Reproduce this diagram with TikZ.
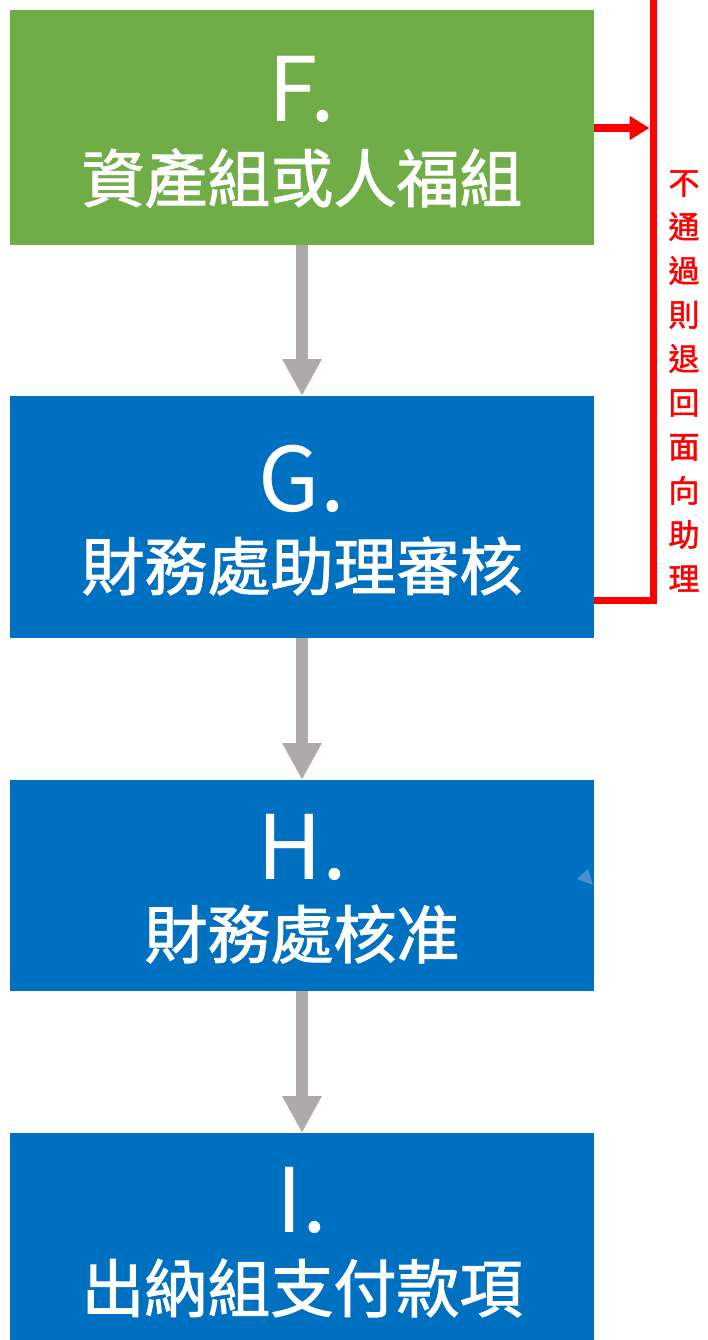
\documentclass[tikz,border=0pt]{standalone}
\usepackage{fontspec}
\setmainfont{Noto Sans CJK TC}
\newfontfamily\heavy{Noto Sans CJK TC}[FakeBold=1.6]
\usetikzlibrary{arrows.meta}
\definecolor{boxgreen}{HTML}{70AD47}
\definecolor{boxblue}{HTML}{0070C0}
\definecolor{arrgray}{HTML}{AEAAAA}
\definecolor{lineRed}{HTML}{FF0000}
\definecolor{triblue}{HTML}{4A8FD6}
\tikzset{
  box/.style={rectangle, inner sep=0pt, outer sep=0pt, minimum width=584pt},
  latin/.style={anchor=base, text=white, inner sep=0pt, font=\fontsize{89}{89}\selectfont},
  cjkline/.style={anchor=base, text=white, inner sep=0pt, font=\heavy\fontsize{63}{63}\selectfont},
  grayarrow/.style={draw=arrgray, line width=12pt, -{Triangle[width=37pt,length=37pt]}},
  redline/.style={draw=lineRed, line width=7pt},
  redtext/.style={text=lineRed, align=center, inner sep=0pt, font=\heavy\fontsize{31}{44}\selectfont}
}
\begin{document}
\begin{tikzpicture}[x=1pt,y=-1pt]
\useasboundingbox (0,0) rectangle (707,1340);
% boxes
\node[box, fill=boxgreen, minimum height=235pt] (F) at (302,127.5) {};
\node[box, fill=boxblue, minimum height=242pt] (G) at (302,517) {};
\node[box, fill=boxblue, minimum height=211pt] (H) at (302,885.5) {};
\node[box, fill=boxblue, minimum height=207pt] (I) at (302,1236.5) {};
% texts
\node[latin] (Ft) at (302,122) {F.};
\node[cjkline] (Fc) at (302,202) {資產組或人福組};
\node[latin] (Gt) at (302,511) {G.};
\node[cjkline] (Gc) at (302,590) {財務處助理審核};
\node[latin] (Ht) at (302,879) {H.};
\node[cjkline] (Hc) at (302,958) {財務處核准};
\node[latin] (It) at (302,1232) {I.};
\node[cjkline] (Ic) at (302,1312) {出納組支付款項};
% gray arrows
\draw[grayarrow] (F.south) -- (G.north);
\draw[grayarrow] (G.south) -- (H.north);
\draw[grayarrow] (H.south) -- (I.north);
% red return line
\coordinate (rtop) at (653,0);
\coordinate (rbend) at (653,600.5);
\draw[redline] (rtop) -- (rbend) -- (G.east |- rbend);
\draw[draw=lineRed, line width=8pt, -{Triangle[width=23pt,length=20pt]}, shorten >=3.5pt] (F.east |- 0,128) -- (rtop |- 0,128);
\node[redtext] (note) at (684,381) {不\\通\\過\\則\\退\\回\\面\\向\\助\\理};
% small stray marker
\fill[triblue] (577,879) -- (588,869) -- (593,885) -- cycle;
\end{tikzpicture}
\end{document}
